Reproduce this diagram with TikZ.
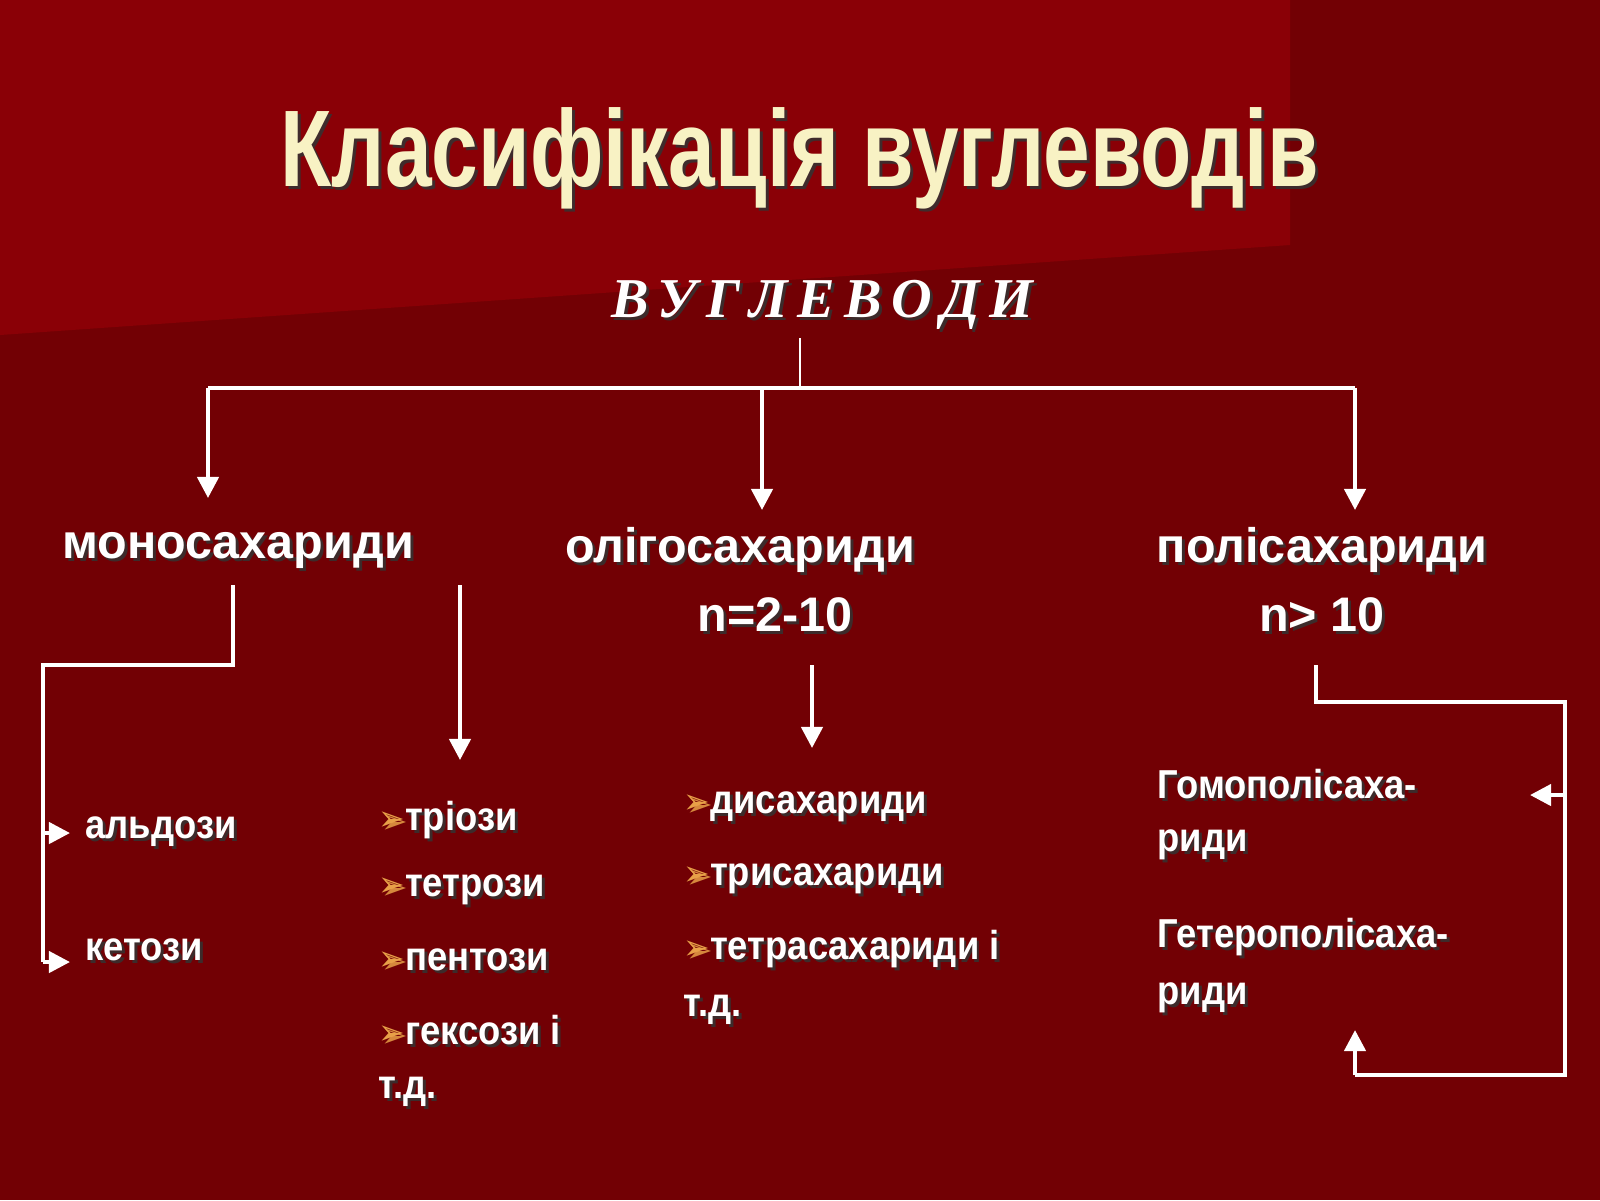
\documentclass[tikz,border=0pt]{standalone}
\usepackage{fontspec}
\setmainfont{Liberation Sans}
\newfontfamily\serifit{Liberation Serif}
\newfontfamily\djv{DejaVu Sans}
\usetikzlibrary{arrows.meta}
\definecolor{bgdark}{HTML}{720004}
\definecolor{bglight}{HTML}{8A0006}
\definecolor{titlecol}{HTML}{F8F2C4}
\definecolor{bulletcol}{HTML}{E8A048}
\newcommand{\sh}[4]{%
  \node[#3,text=black!80,opacity=0.85] at ([shift={(0.03,-0.03)}]#2) {#4};
  \node[#3] (#1) at (#2) {#4};}
\newcommand{\bul}{{\djv\color{bulletcol}\fontsize{10}{11}\selectfont ➢}}
\tikzset{
  con/.style={white,line width=1.2pt},
  arr/.style={con,-{Triangle[length=6pt,width=6pt]}},
  main/.style={text=white,font=\bfseries\fontsize{13.8}{16}\selectfont,inner sep=0pt},
  item/.style={text=white,font=\bfseries\fontsize{11.5}{13}\selectfont,xscale=0.9,inner sep=0pt,anchor=west},
}
\begin{document}
\begin{tikzpicture}
\useasboundingbox (0,0) rectangle (16,-12);
\fill[bgdark] (0,0) rectangle (16,-12);
\fill[bglight] (0,0) -- (12.9,0) -- (12.9,-2.45) -- (0,-3.35) -- cycle;
% title
\sh{title}{8,-1.58}{text=titlecol,font=\bfseries\fontsize{31}{34}\selectfont,xscale=0.77,inner sep=0pt}{Класифікація вуглеводів}
\sh{root}{8.22,-3.05}{text=white,font=\serifit\bfseries\itshape\fontsize{16}{19}\selectfont,inner sep=0pt}{В\,У\,Г\,Л\,Е\,В\,О\,Д\,И}
\coordinate (r0) at (8.0,-3.38);
\coordinate (hl) at (2.08,-3.88);
\coordinate (hm) at (7.62,-3.88);
\coordinate (hr) at (13.55,-3.88);
\draw[white,line width=0.4pt] (r0) -- (8.0,-3.88);
\draw[con] (hl) -- (hr);
% level 1
\sh{mono}{2.38,-5.5}{main}{моносахариди}
\sh{oligo}{7.40,-5.5}{main}{олігосахариди}
\sh{on}{7.75,-6.15}{main}{n=2-10}
\sh{poly}{13.22,-5.5}{main}{полісахариди}
\sh{pn}{13.22,-6.15}{main}{n> 10}
\draw[arr] (hl) -- (2.08,-4.98);
\draw[arr] (hm) -- (7.62,-5.1);
\draw[arr] (hr) -- (13.55,-5.1);
% mono
\sh{ald}{0.85,-8.32}{item}{альдози}
\sh{ket}{0.85,-9.5}{item}{кетози}
\coordinate (m0) at (2.33,-5.85);
\draw[con] (m0) -- (2.33,-6.65) -- (0.43,-6.65) -- (0.43,-9.62);
\draw[arr] (0.43,-9.62) -- (0.7,-9.62);
\draw[arr] (0.43,-8.33) -- (0.7,-8.33);
\coordinate (m1) at (4.6,-5.85);
\coordinate (m1e) at (4.6,-7.6);
\draw[arr] (m1) -- (m1e);
\sh{tri}{3.78,-8.2}{item}{\bul тріози}
\sh{tet}{3.78,-8.9}{item}{\bul тетрози}
\sh{pen}{3.78,-9.6}{item}{\bul пентози}
\sh{hex}{3.78,-10.3}{item}{\bul гексози і}
\sh{td1}{3.78,-10.92}{item}{т.д.}
% oligo
\coordinate (o0) at (8.12,-6.65);
\coordinate (o1) at (8.12,-7.48);
\draw[arr] (o0) -- (o1);
\sh{di}{6.83,-8.07}{item}{\bul дисахариди}
\sh{trs}{6.83,-8.79}{item}{\bul трисахариди}
\sh{tets}{6.83,-9.49}{item}{\bul тетрасахариди і}
\sh{td2}{6.83,-10.1}{item}{т.д.}
% poly
\sh{homo}{11.57,-7.84}{item}{Гомополісаха-}
\sh{homo2}{11.57,-8.45}{item}{риди}
\sh{het}{11.57,-9.37}{item}{Гетерополісаха-}
\sh{het2}{11.57,-9.98}{item}{риди}
\coordinate (p0) at (13.16,-6.65);
\coordinate (p1) at (15.65,-7.02);
\coordinate (p2) at (15.65,-10.75);
\coordinate (p3) at (13.55,-10.75);
\draw[con] (p0) -- (13.16,-7.02) -- (p1) -- (p2) -- (p3);
\draw[arr] (p3) -- (13.55,-10.3);
\draw[arr] (15.65,-7.95) -- (15.3,-7.95);
\end{tikzpicture}
\end{document}
